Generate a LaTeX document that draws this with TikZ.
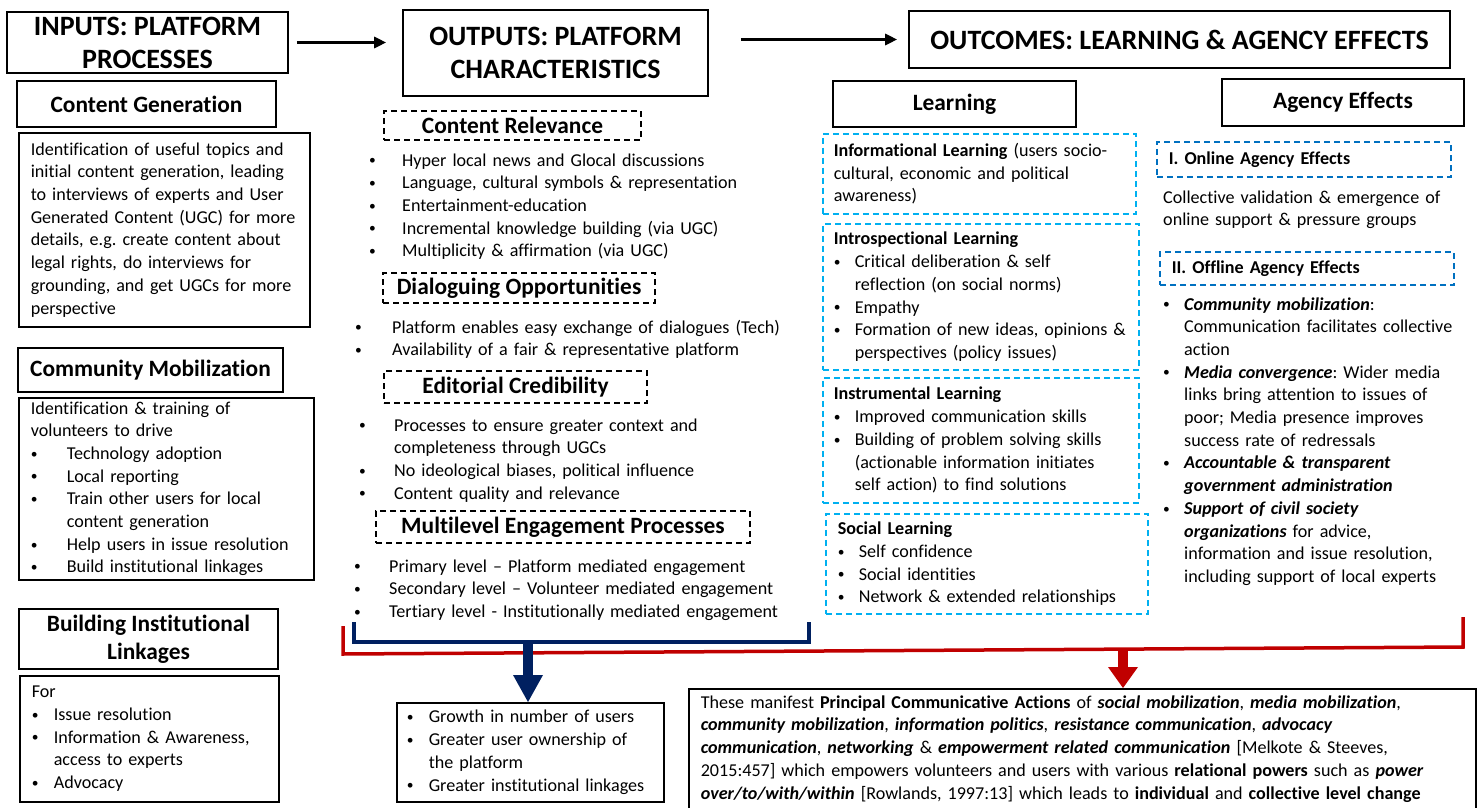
\documentclass[tikz,border=0pt]{standalone}
\usepackage{fontspec}
\setmainfont{Carlito}[Ligatures={TeX,NoCommon}]
\usetikzlibrary{arrows.meta,calc}

\definecolor{navy}{RGB}{0,32,96}
\definecolor{darkred}{RGB}{192,0,0}
\definecolor{learnblue}{RGB}{0,176,240}
\definecolor{agencyblue}{RGB}{0,112,192}

\newcommand{\bul}[1]{\makebox[#1pt][l]{\raisebox{1.2pt}{\fontsize{13.5}{13.5}\selectfont\textbullet}}}
\newcommand{\bi}[1]{\textbf{\textit{#1}}}

\tikzset{
  stagebox/.style={draw, line width=1.6pt, align=center, inner sep=0pt, font=\fontsize{28}{33}\selectfont\bfseries},
  sechead/.style={draw, line width=1.6pt, align=center, inner sep=0pt, font=\fontsize{23.4}{28}\selectfont\bfseries},
  dashhead/.style={draw, line width=1.4pt, dash pattern=on 6pt off 4pt, align=center, inner sep=0pt, font=\fontsize{23.4}{28}\selectfont\bfseries},
  textbox/.style={draw, line width=1.6pt, anchor=north west, align=left, inner xsep=12pt, inner ysep=0pt, font=\fontsize{18.1}{22.7}\selectfont},
  learnbox/.style={textbox, draw=learnblue, line width=1.6pt, dash pattern=on 6pt off 4pt, inner xsep=11pt},
  agencyhead/.style={textbox, draw=agencyblue, line width=1.6pt, dash pattern=on 6pt off 4pt, font=\fontsize{18.1}{22.7}\selectfont\bfseries},
  itemlist/.style={anchor=base west, align=left, inner sep=0pt, text width=460pt, font=\fontsize{18.1}{22.7}\selectfont},
  flow/.style={line width=3pt, -{Triangle[length=12pt,width=11pt]}},
  bracket/.style={line width=3.5pt},
}

\begin{document}
\frenchspacing
\begin{tikzpicture}[x=1pt,y=1pt,yscale=-1]
\useasboundingbox (0,0) rectangle (1478,808);

% stage titles
\node[stagebox, minimum width=281pt, minimum height=61pt] (inputs) at (147.5,42.5) {INPUTS: PLATFORM\\PROCESSES};
\node[stagebox, minimum width=305pt, minimum height=86pt] (outputs) at (555.5,53) {OUTPUTS: PLATFORM\\CHARACTERISTICS};
\node[stagebox, minimum width=541pt, minimum height=57pt] (outcomes) at (1179.5,39.5) {OUTCOMES: LEARNING \& AGENCY EFFECTS};
\draw[flow, shorten <=8pt, shorten >=16pt] (inputs.east) -- (inputs.east -| outputs.west);
\draw[flow, shorten <=32pt, shorten >=11pt] (outcomes.west -| outputs.east) -- (outcomes.west);

% inputs
\node[sechead, minimum width=259pt, minimum height=46pt] (congen) at (146.5,104) {Content Generation};
\node[textbox, minimum width=291pt, minimum height=194pt, text width=267pt] (congentext) at (18,132) {Identification of useful topics and\\initial content generation, leading\\to interviews of experts and User\\Generated Content (UGC) for more\\details, e.g. create content about\\legal rights, do interviews for\\grounding, and get UGCs for more\\perspective};
\node[sechead, minimum width=265pt, minimum height=44pt] (commob) at (150.5,370) {Community Mobilization};
\node[textbox, minimum width=295pt, minimum height=182pt, text width=271pt] (commobtext) at (18,397) {Identification \& training of\\volunteers to drive\\\bul{36}Technology adoption\\\bul{36}Local reporting\\\bul{36}Train other users for local\\\hspace*{36pt}content generation\\\bul{36}Help users in issue resolution\\\bul{36}Build institutional linkages};
\node[sechead, minimum width=259pt, minimum height=60pt] (bilhead) at (148.5,639) {Building Institutional\\Linkages};
\node[textbox, minimum width=259pt, minimum height=126pt, text width=235pt] (biltext) at (19,675) {For\\\bul{22}Issue resolution\\\bul{22}Information \& Awareness,\\\hspace*{22pt}access to experts\\\bul{22}Advocacy};

% outputs
\node[dashhead, minimum width=257pt, minimum height=29pt] (relevance) at (512.5,125.5) {Content Relevance};
\node[itemlist] (relevancelist) at (369,166) {\bul{33}Hyper local news and Glocal discussions\\\bul{33}Language, cultural symbols \& representation\\\bul{33}Entertainment-education\\\bul{33}Incremental knowledge building (via UGC)\\\bul{33}Multiplicity \& affirmation (via UGC)};
\node[dashhead, minimum width=272pt, minimum height=30pt] (dialog) at (519,288) {Dialoguing Opportunities};
\node[itemlist] (dialoglist) at (355,333) {\bul{37}Platform enables easy exchange of dialogues (Tech)\\\bul{37}Availability of a fair \& representative platform};
\node[dashhead, minimum width=263pt, minimum height=32pt] (editorial) at (515.5,387) {Editorial Credibility};
\node[itemlist] (editoriallist) at (359,431) {\bul{35}Processes to ensure greater context and\\\hspace*{35pt}completeness through UGCs\\\bul{35}No ideological biases, political influence\\\bul{35}Content quality and relevance};
\node[dashhead, minimum width=374pt, minimum height=32pt] (multilevel) at (563,527) {Multilevel Engagement Processes};
\node[itemlist] (multilevellist) at (354,572) {\bul{35}Primary level -- Platform mediated engagement\\\bul{35}Secondary level -- Volunteer mediated engagement\\\bul{35}Tertiary level - Institutionally mediated engagement};

% learning
\node[sechead, minimum width=243pt, minimum height=46pt] (learning) at (954.5,104) {Learning};
\node[learnbox, minimum width=313pt, minimum height=80pt, text width=291pt] (informational) at (822,133) {\textbf{Informational Learning} (users socio-\\cultural, economic and political\\awareness)};
\node[learnbox, minimum width=316pt, minimum height=146pt, text width=294pt] (introspectional) at (822,223) {\textbf{Introspectional Learning}\\\bul{21}Critical deliberation \& self\\\hspace*{21pt}reflection (on social norms)\\\bul{21}Empathy\\\bul{21}Formation of new ideas, opinions \&\\\hspace*{21pt}perspectives (policy issues)};
\node[learnbox, minimum width=316pt, minimum height=125pt, text width=294pt] (instrumental) at (822,377) {\textbf{Instrumental Learning}\\\bul{21}Improved communication skills\\\bul{21}Building of problem solving skills\\\hspace*{21pt}(actionable information initiates\\\hspace*{21pt}self action) to find solutions};
\node[learnbox, minimum width=322pt, minimum height=100pt, inner xsep=12pt, text width=298pt] (social) at (825,513) {\textbf{Social Learning}\\\bul{21}Self confidence\\\bul{21}Social identities\\\bul{21}Network \& extended relationships};

% agency effects
\node[sechead, minimum width=242pt, minimum height=47pt] (agency) at (1343,102.5) {Agency Effects};
\node[agencyhead, minimum width=294pt, minimum height=35pt, text width=270pt] (online) at (1156,141) {I. Online Agency Effects};
\node[itemlist] (onlinetext) at (1163,203) {Collective validation \& emergence of\\online support \& pressure groups};
\node[agencyhead, minimum width=294pt, minimum height=33pt, text width=270pt] (offline) at (1159,251) {II. Offline Agency Effects};
\node[itemlist] (offlinelist) at (1163,310) {\bul{21}\bi{Community mobilization}:\\\hspace*{21pt}Communication facilitates collective\\\hspace*{21pt}action\\\bul{21}\bi{Media convergence}: Wider media\\\hspace*{21pt}links bring attention to issues of\\\hspace*{21pt}poor; Media presence improves\\\hspace*{21pt}success rate of redressals\\\bul{21}\bi{Accountable \& transparent}\\\hspace*{21pt}\bi{government administration}\\\bul{21}\bi{Support of civil society}\\\hspace*{21pt}\bi{organizations} for advice,\\\hspace*{21pt}information and issue resolution,\\\hspace*{21pt}including support of local experts};

% results
\node[textbox, minimum width=267pt, minimum height=99pt, inner xsep=10pt, text width=247pt] (growth) at (396,702) {\bul{22}Growth in number of users\\\bul{22}Greater user ownership of\\\hspace*{22pt}the platform\\\bul{22}Greater institutional linkages};
\node[textbox, minimum width=787pt, minimum height=120pt, text width=763pt] (actions) at (688,688) {These manifest \textbf{Principal Communicative Actions} of \bi{social mobilization}, \bi{media mobilization},\\\bi{community mobilization}, \bi{information politics}, \bi{resistance communication}, \bi{advocacy}\\\bi{communication}, \bi{networking} \& \bi{empowerment related communication} [Melkote \& Steeves,\\2015:457] which empowers volunteers and users with various \textbf{relational powers} such as \bi{power}\\\bi{over/to/with/within} [Rowlands, 1997:13] which leads to \textbf{individual} and \textbf{collective level change}};

% brackets and block arrows
\coordinate (bluel) at (354,622);
\coordinate (bluer) at (809,622);
\coordinate (bluebase) at (528,642);
\draw[bracket, navy] (bluel) |- (bluebase) -| (bluer);
\draw[bracket, darkred] (343,626) -- (343,654) -- (1463,647) -- (1463,617);
\coordinate (bluetip) at (growth.north -| bluebase);
\fill[navy] ($(bluebase)+(-5,0)$) rectangle ($(bluetip)+(5,-27)$);
\fill[navy] ($(bluetip)+(-15,-27)$) -- ($(bluetip)+(15,-27)$) -- (bluetip) -- cycle;
\coordinate (reddrop) at (1123,650);
\coordinate (redtip) at (actions.north -| reddrop);
\fill[darkred] ($(reddrop)+(-5,0)$) rectangle ($(redtip)+(5,-21)$);
\fill[darkred] ($(redtip)+(-15,-21)$) -- ($(redtip)+(15,-21)$) -- (redtip) -- cycle;

\end{tikzpicture}
\end{document}
